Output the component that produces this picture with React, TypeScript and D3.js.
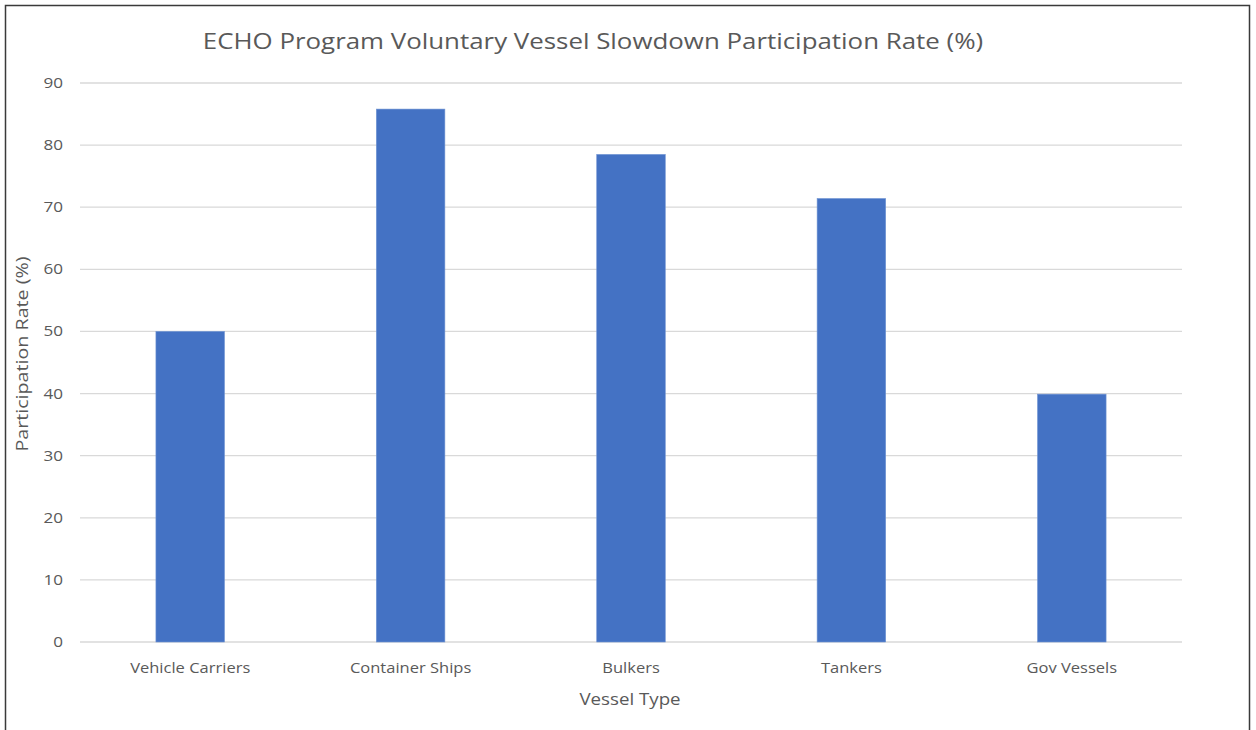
import React from "react";
import * as d3 from "d3";

const categories = ["Vehicle Carriers", "Container Ships", "Bulkers", "Tankers", "Gov Vessels"];
const values = [50, 85.8, 78.5, 71.4, 39.9];
const yTicks = [0, 10, 20, 30, 40, 50, 60, 70, 80, 90];
const title = "ECHO Program Voluntary Vessel Slowdown Participation Rate (%)";
const xTitle = "Vessel Type";
const yTitle = "Participation Rate (%)";

const W = 1256;
const H = 730;
const left = 80;
const right = 1182;
const top = 83;
const bottom = 642;
const FONT = "'Open Sans', 'Noto Sans', sans-serif";
const TEXT = "#595959";

function T({ x, y, size, sx = 1, rotate = 0, anchor = "middle", dy, children }: any) {
  return (
    <text
      transform={`translate(${x},${y}) rotate(${rotate}) scale(${sx},1)`}
      textAnchor={anchor}
      fontSize={size}
      fill={TEXT}
      dy={dy}
    >
      {children}
    </text>
  );
}

export default function App() {
  const x = d3.scaleBand<string>().domain(categories).range([left, right]).padding(0);
  const y = d3.scaleLinear().domain([0, 90]).range([bottom, top]);
  const barW = x.bandwidth() * 0.311;

  return (
    <svg
      width={W}
      height={H}
      style={{ position: "absolute", left: 0, top: 0, background: "#fff" }}
      fontFamily={FONT}
    >
      <rect x={0} y={0} width={W} height={H} fill="#fff" />
      <path d={`M5.5,${H} V5.5 H1249.5 V${H}`} fill="none" stroke="#3a3a3a" strokeWidth={1.5} />
      <T x={593} y={49} size={22.5} sx={1.15}>
        {title}
      </T>
      {yTicks.map((t) => (
        <g key={t}>
          <line x1={left} x2={right} y1={y(t)} y2={y(t)} stroke="#d9d9d9" strokeWidth={1.3} />
          <T x={63} y={y(t)} size={14} sx={1.22} anchor="end" dy="0.36em">
            {t}
          </T>
        </g>
      ))}
      {categories.map((c, i) => {
        const cx = (x(c) as number) + x.bandwidth() / 2;
        return (
          <g key={c}>
            <rect
              x={cx - barW / 2}
              y={y(values[i])}
              width={barW}
              height={y(0) - y(values[i])}
              fill="#4472C4"
              stroke="#6f93d2"
              strokeWidth={0.6}
            />
            <T x={cx} y={673} size={14} sx={1.18}>
              {c}
            </T>
          </g>
        );
      })}
      <T x={630} y={705} size={16} sx={1.17}>
        {xTitle}
      </T>
      <T x={28} y={354} size={15.5} sx={1.27} rotate={-90}>
        {yTitle}
      </T>
    </svg>
  );
}
